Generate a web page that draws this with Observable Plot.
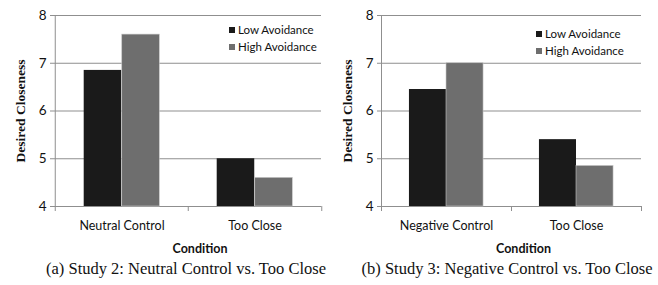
<!DOCTYPE html>
<html>
<head>
<meta charset="utf-8">
<script src="https://cdn.jsdelivr.net/npm/d3@7"></script>
<script src="https://cdn.jsdelivr.net/npm/@observablehq/plot@0.6"></script>
<style>
  html, body { margin: 0; padding: 0; background: #fff; }
  #root { position: relative; width: 658px; height: 285px; overflow: hidden; }
  .panel { position: absolute; top: 0; }
  .caption { position: absolute; font-family: "Liberation Serif", "DejaVu Serif", serif; font-size: 16.5px; color: #111; white-space: nowrap; transform: translateX(-50%); }
  .legend { position: absolute; font-family: Lato, sans-serif; font-size: 11.5px; color: #111; line-height: 17px; }
  .legend .sw { display: inline-block; width: 6px; height: 6px; margin-right: 3px; vertical-align: 1px; }
</style>
</head>
<body>
<div id="root"></div>
<script>
// ---- data ----
const seriesNames = ["Low Avoidance", "High Avoidance"];
const seriesColors = ["#1a1a1a", "#6e6e6e"];
const yTicks = [4, 5, 6, 7, 8];
const yLabel = "Desired Closeness";
const xLabel = "Condition";

const studyAConditions = ["Neutral Control", "Too Close"];
const studyALow = [6.85, 5.0];
const studyAHigh = [7.6, 4.6];
const studyACaption = "(a) Study 2: Neutral Control vs. Too Close";

const studyBConditions = ["Negative Control", "Too Close"];
const studyBLow = [6.45, 5.4];
const studyBHigh = [7.0, 4.85];
const studyBCaption = "(b) Study 3: Negative Control vs. Too Close";

const root = document.getElementById("root");

function panel(conds, low, high, caption, opts) {
  const {left, width, marginLeft, marginRight, height, marginTop, marginBottom, legendX, legendY, xLabelDx, yLabelX, captionX} = opts;
  const rows = [];
  conds.forEach((c, i) => {
    rows.push({condition: c, series: seriesNames[0], value: low[i]});
    rows.push({condition: c, series: seriesNames[1], value: high[i]});
  });
  const bw = (width - marginLeft - marginRight) / conds.length;
  const outer = bw * 0.215, barW = bw * 0.285;
  const grid = "#8f8f8f";
  const chart = Plot.plot({
    width, height, marginLeft, marginRight, marginTop, marginBottom,
    style: {fontFamily: "Lato, sans-serif", color: "#111", background: "#fff"},
    x: {domain: conds, padding: 0, axis: null, label: null},
    y: {domain: [yTicks[0], yTicks[yTicks.length - 1]], axis: null, label: null},
    color: {domain: seriesNames, range: seriesColors},
    marks: [
      Plot.ruleY(yTicks, {stroke: grid, strokeWidth: 1}),
      Plot.ruleX([conds[0]], {x: d => d, dx: -bw / 2, y1: yTicks[0], y2: yTicks[yTicks.length - 1], stroke: grid}),
      Plot.barY(rows.filter(d => d.series === seriesNames[0]), {x: "condition", y1: yTicks[0], y2: "value", fill: "series", insetLeft: outer, insetRight: bw - outer - barW}),
      Plot.barY(rows.filter(d => d.series === seriesNames[1]), {x: "condition", y1: yTicks[0], y2: "value", fill: "series", stroke: "#c8c8c8", strokeWidth: 0.6, insetLeft: outer + barW, insetRight: bw - outer - 2 * barW}),
      Plot.axisY({ticks: yTicks, tickSize: 4, tickPadding: 4, stroke: grid, fontSize: 13.5, tickFormat: d3.format("d"), label: null}),
      Plot.axisX({tickSize: 0, tickPadding: 15, fontSize: 12.5, label: null}),
      Plot.ruleX(conds, {x: d => d, dx: -bw / 2, y1: yTicks[0], y2: yTicks[0], insetTop: 5, stroke: grid}),
      Plot.ruleX([conds[conds.length - 1]], {x: d => d, dx: bw / 2, y1: yTicks[0], y2: yTicks[0], insetTop: 5, stroke: grid}),
      Plot.text([xLabel], {text: d => d, frameAnchor: "bottom", textAnchor: "middle", lineAnchor: "middle", dy: 42, dx: xLabelDx, fontWeight: "bold", fontSize: 12.5}),
      Plot.text([yLabel], {text: d => d, frameAnchor: "left", textAnchor: "middle", lineAnchor: "middle", dx: yLabelX - marginLeft, rotate: -90, fontFamily: "Liberation Serif, serif", fontWeight: "bold", fontSize: 13.5})
    ]
  });
  const wrap = document.createElement("div");
  wrap.className = "panel";
  wrap.style.left = left + "px";
  wrap.appendChild(chart);
  const leg = document.createElement("div");
  leg.className = "legend";
  leg.style.left = legendX + "px";
  leg.style.top = legendY + "px";
  leg.innerHTML = seriesNames.map((s, i) => `<div><span class="sw" style="background:${seriesColors[i]}"></span>${s}</div>`).join("");
  wrap.appendChild(leg);
  root.appendChild(wrap);
  const cap = document.createElement("div");
  cap.className = "caption";
  cap.style.left = captionX + "px";
  cap.style.top = "259px";
  cap.textContent = caption;
  root.appendChild(cap);
}

panel(studyAConditions, studyALow, studyAHigh, studyACaption, {
  left: 0, width: 329, height: 256, marginLeft: 54, marginRight: 8, marginTop: 15, marginBottom: 50,
  legendX: 229, legendY: 21, xLabelDx: 12, yLabelX: 20, captionX: 186
});
panel(studyBConditions, studyBLow, studyBHigh, studyBCaption, {
  left: 330, width: 328, height: 256, marginLeft: 51, marginRight: 17, marginTop: 15, marginBottom: 50,
  legendX: 206, legendY: 25, xLabelDx: 12, yLabelX: 17, captionX: 507
});
</script>
</body>
</html>
